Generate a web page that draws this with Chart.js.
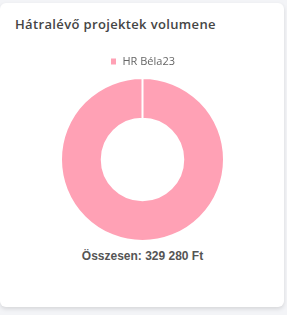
<!DOCTYPE html>
<html>
<head>
<meta charset="utf-8">
<script src="https://cdn.jsdelivr.net/npm/chart.js@4"></script>
<style>
  html, body { margin: 0; padding: 0; background: #f3f4f7; width: 287px; height: 315px; overflow: hidden; }
  .card {
    position: absolute; left: 0; top: 3px; width: 284px; height: 304px;
    background: #fff; border-radius: 6px;
    box-shadow: 0 2px 4px rgba(0,0,0,0.12);
  }
  .title {
    position: absolute; left: 15px; top: 12px; letter-spacing: 0.35px;
    font-family: "Open Sans", sans-serif; font-size: 13px; font-weight: 600; color: #454545;
  }
  .chart-box { position: absolute; left: 0; top: 43px; width: 285px; height: 196px; }
  .total {
    position: absolute; left: 0; width: 285px; top: 246px; text-align: center;
    font-family: "Liberation Sans", Arial, sans-serif; font-size: 12px; font-weight: bold; color: #555;
  }
</style>
</head>
<body>
<div class="card">
  <div class="title">Hátralévő projektek volumene</div>
  <div class="chart-box"><canvas id="chart"></canvas></div>
  <div class="total" id="total"></div>
</div>
<script>
const labels = ['HR Béla23'];
const values = [329280];
const colors = ['#ffa1b5'];

const total = values.reduce((a, b) => a + b, 0);
document.getElementById('total').textContent =
  'Összesen: ' + total.toLocaleString('hu-HU').replace(/\s/g, ' ') + ' Ft';

new Chart(document.getElementById('chart').getContext('2d'), {
  type: 'doughnut',
  data: {
    labels: labels,
    datasets: [{
      data: values,
      backgroundColor: colors,
      borderColor: '#fff',
      borderWidth: 2
    }]
  },
  options: {
    responsive: true,
    maintainAspectRatio: false,
    animation: false,
    cutout: '50%',
    plugins: {
      legend: {
        position: 'top',
        labels: {
          boxWidth: 7,
          boxHeight: 8,
          color: '#666',
          font: { family: 'Open Sans', size: 11 }
        }
      },
      tooltip: { enabled: false }
    }
  }
});
</script>
</body>
</html>
